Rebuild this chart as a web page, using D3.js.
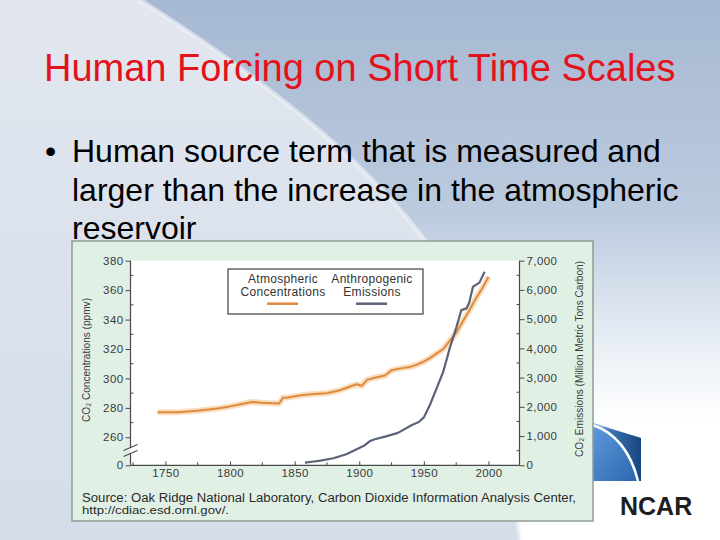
<!DOCTYPE html>
<html>
<head>
<meta charset="utf-8">
<script src="https://cdn.jsdelivr.net/npm/d3@7/dist/d3.min.js"></script>
<style>
  html, body { margin: 0; padding: 0; background: #fff; }
  svg { display: block; }
  text { font-family: "Liberation Sans", Arial, Helvetica, sans-serif; }
</style>
</head>
<body>
<svg id="slide" width="720" height="540"></svg>
<script>
// ---------- data ----------
const titleText = "Human Forcing on Short Time Scales";
const bulletLines = ["Human source term that is measured and",
                     "larger than the increase in the atmospheric",
                     "reservoir"];

const concYears = [1744,1760,1775,1790,1800,1810,1817,1825,1838,1841,1845,1855,1865,1875,1885,1893,1898,1902,1906,1912,1920,1925,1930,1940,1945,1950,1955,1960,1965,1970,1975,1980,1985,1990,1995,2000];
const concPpm   = [277,277,278,279.5,281,282.8,284,283.5,283,286.8,287,288.5,289.5,290,292,294.5,296,295,299,300.5,302,305.5,306.5,308,309.5,311.5,314,317,320,325.5,331,338.5,346,354,361,369];

const emYears = [1858,1865,1870,1880,1890,1898,1904,1908,1912,1920,1930,1940,1946,1950,1955,1960,1965,1970,1975,1979,1983,1985,1988,1993,1997];
const emMtC   = [90,130,160,240,380,550,680,820,890,980,1110,1360,1480,1640,2100,2650,3200,4000,4700,5310,5370,5550,6110,6250,6620];

const yearTicks  = [1750,1800,1850,1900,1950,2000];
const yearMinor  = [1725,1775,1825,1875,1925,1975,2025];
const leftTicks  = [0,260,280,300,320,340,360,380];
const leftMinor  = [270,290,310,330,350,370];
const rightTicks = [0,1000,2000,3000,4000,5000,6000,7000];
const rightMinor = [500,1500,2500,3500,4500,5500,6500];

const legendLabels = [["Atmospheric","Concentrations"],["Anthropogenic","Emissions"]];
const leftTitle  = "CO\u2082 Concentrations (ppmv)";
const rightTitle = "CO\u2082 Emissions (Million Metric Tons Carbon)";
const sourceLines = ["Source: Oak Ridge National Laboratory, Carbon Dioxide Information Analysis Center,",
                     "http://cdiac.esd.ornl.gov/."];

// ---------- slide background ----------
const svg = d3.select("#slide");
const defs = svg.append("defs");

const bgGrad = defs.append("linearGradient").attr("id","bgGrad").attr("x1",0).attr("y1",0).attr("x2",0).attr("y2",1);
bgGrad.append("stop").attr("offset","0%").attr("stop-color","#a6b8d2");
bgGrad.append("stop").attr("offset","40%").attr("stop-color","#bccbdf");
bgGrad.append("stop").attr("offset","62%").attr("stop-color","#e6ecf4");
bgGrad.append("stop").attr("offset","78%").attr("stop-color","#ffffff");
bgGrad.append("stop").attr("offset","100%").attr("stop-color","#ffffff");
svg.append("rect").attr("width",720).attr("height",540).attr("fill","url(#bgGrad)");

const leftGrad = defs.append("linearGradient").attr("id","leftGrad").attr("x1",0).attr("y1",0).attr("x2",0).attr("y2",1);
leftGrad.append("stop").attr("offset","0%").attr("stop-color","#e2e7ef");
leftGrad.append("stop").attr("offset","100%").attr("stop-color","#d4dde9");
svg.append("path")
  .attr("d","M0,0 L140,0 C250,70 420,190 470,320 C500,400 510,470 520,540 L0,540 Z")
  .attr("fill","url(#leftGrad)");
svg.append("path")
  .attr("d","M140,0 C250,70 420,190 470,320 C500,400 510,470 520,540")
  .attr("fill","none").attr("stroke","#eef2f7").attr("stroke-width",5).attr("opacity",0.6);

// ---------- title & bullets ----------
svg.append("text").attr("x",44).attr("y",81)
  .attr("font-size",38).attr("fill","#e3121b").text(titleText);

svg.append("text").attr("x",45).attr("y",162).attr("font-size",32).attr("fill","#000").text("\u2022");
svg.selectAll("text.bl").data(bulletLines).join("text").attr("class","bl")
  .attr("x",72).attr("y",(d,i)=>162 + i*38.5)
  .attr("font-size",32).attr("fill","#000").text(d=>d);

// ---------- NCAR logo ----------
const logoGrad = defs.append("linearGradient").attr("id","logoGrad").attr("x1",0).attr("y1",0).attr("x2",1).attr("y2",1);
logoGrad.append("stop").attr("offset","0%").attr("stop-color","#5f9bdc");
logoGrad.append("stop").attr("offset","100%").attr("stop-color","#2a64ad");
const darkGrad = defs.append("linearGradient").attr("id","darkGrad").attr("x1",0).attr("y1",0).attr("x2",1).attr("y2",0);
darkGrad.append("stop").attr("offset","0%").attr("stop-color","#cfe0f2");
darkGrad.append("stop").attr("offset","35%").attr("stop-color","#3d74b4");
darkGrad.append("stop").attr("offset","100%").attr("stop-color","#15457f");
svg.append("path").attr("d","M593,423 L641,438 L641,481 L593,481 Z").attr("fill","url(#logoGrad)");
svg.append("path").attr("d","M593,424 Q628,436 639,481 L641,481 L641,438 Z").attr("fill","url(#darkGrad)");
svg.append("path").attr("d","M593,425 Q627,437 638,481").attr("fill","none").attr("stroke","#ffffff").attr("stroke-width",2.5);
svg.append("text").attr("x",620).attr("y",515).attr("font-size",25).attr("font-weight","bold")
  .attr("fill","#1e1e1e").text("NCAR");

// ---------- chart panel ----------
svg.append("rect").attr("x",72).attr("y",241).attr("width",521).attr("height",280)
  .attr("fill","#e1f0e5").attr("stroke","#8f9d95").attr("stroke-width",1.5);

const x  = d3.scaleLinear().domain([1723,2024]).range([130.5,519.5]);
const yL = d3.scaleLinear().domain([0,260,380]).range([465.3,437.3,260.7]);
const yR = d3.scaleLinear().domain([0,7000]).range([465.3,260.7]);

svg.append("rect").attr("x",x(1723)).attr("y",yR(7000))
  .attr("width",x(2024)-x(1723)).attr("height",yR(0)-yR(7000)).attr("fill","#ffffff");

const axisColor = "#4a4a4a";
const tickFont = 11.5;

// bottom axis
const gx = svg.append("g").attr("transform",`translate(0,${yR(0)})`)
  .call(d3.axisBottom(x).tickValues(yearTicks).tickFormat(d3.format("d")).tickSizeInner(-4).tickSizeOuter(0).tickPadding(4));
gx.select(".domain").remove();
gx.selectAll("line").attr("stroke",axisColor);
gx.selectAll("text").attr("font-size",tickFont).attr("fill","#3a3a3a").attr("letter-spacing","0.4px").attr("font-family",null);
svg.append("g").selectAll("line").data(yearMinor.filter(d=>d>1723&&d<2024)).join("line")
  .attr("x1",d=>x(d)).attr("x2",d=>x(d)).attr("y1",yR(0)).attr("y2",yR(0)-3).attr("stroke",axisColor);
svg.append("line").attr("x1",x(1723)).attr("x2",x(2024)).attr("y1",yR(0)).attr("y2",yR(0))
  .attr("stroke",axisColor).attr("stroke-width",1.2);

// left axis
const gl = svg.append("g").attr("transform",`translate(${x(1723)},0)`)
  .call(d3.axisLeft(yL).tickValues(leftTicks).tickFormat(d3.format("d")).tickSizeInner(5).tickSizeOuter(0).tickPadding(2));
gl.select(".domain").remove();
gl.selectAll("line").attr("stroke",axisColor);
gl.selectAll("text").attr("font-size",tickFont).attr("fill","#3a3a3a").attr("letter-spacing","0.4px").attr("font-family",null);
svg.append("g").selectAll("line").data(leftMinor).join("line")
  .attr("x1",x(1723)).attr("x2",x(1723)+3).attr("y1",d=>yL(d)).attr("y2",d=>yL(d)).attr("stroke",axisColor);
// axis line with break
svg.append("line").attr("x1",x(1723)).attr("x2",x(1723)).attr("y1",yL(380)).attr("y2",447.5)
  .attr("stroke",axisColor).attr("stroke-width",1.2);
svg.append("line").attr("x1",x(1723)).attr("x2",x(1723)).attr("y1",453.5).attr("y2",yR(0))
  .attr("stroke",axisColor).attr("stroke-width",1.2);
svg.append("g").selectAll("line").data([0,6]).join("line")
  .attr("x1",x(1723)-7).attr("x2",x(1723)+7).attr("y1",d=>450.5+d).attr("y2",d=>444.5+d)
  .attr("stroke",axisColor).attr("stroke-width",1.1);

// right axis
const gr = svg.append("g").attr("transform",`translate(${x(2024)},0)`)
  .call(d3.axisRight(yR).tickValues(rightTicks).tickFormat(d3.format(",")).tickSizeInner(5).tickSizeOuter(0).tickPadding(2));
gr.select(".domain").remove();
gr.selectAll("line").attr("stroke",axisColor);
gr.selectAll("text").attr("font-size",tickFont).attr("fill","#3a3a3a").attr("letter-spacing","0.4px").attr("font-family",null);
svg.append("g").selectAll("line").data(rightMinor).join("line")
  .attr("x1",x(2024)).attr("x2",x(2024)-3).attr("y1",d=>yR(d)).attr("y2",d=>yR(d)).attr("stroke",axisColor);
svg.append("line").attr("x1",x(2024)).attr("x2",x(2024)).attr("y1",yR(7000)).attr("y2",yR(0))
  .attr("stroke",axisColor).attr("stroke-width",1.2);

// axis titles
svg.append("text").attr("transform","translate(90,360) rotate(-90)")
  .attr("text-anchor","middle").attr("font-size",11.5).attr("fill","#3a3a3a")
  .attr("textLength",124).attr("lengthAdjust","spacingAndGlyphs").text(leftTitle);
svg.append("text").attr("transform","translate(582.5,359) rotate(-90)")
  .attr("text-anchor","middle").attr("font-size",11.5).attr("fill","#3a3a3a")
  .attr("textLength",196).attr("lengthAdjust","spacingAndGlyphs").text(rightTitle);

// ---------- series ----------
const concData = concYears.map((d,i)=>[d,concPpm[i]]);
const emData = emYears.map((d,i)=>[d,emMtC[i]]);
const concLine = d3.line().x(d=>x(d[0])).y(d=>yL(d[1]));
const emLine = d3.line().x(d=>x(d[0])).y(d=>yR(d[1]));

svg.append("path").datum(concData).attr("d",concLine).attr("fill","none")
  .attr("stroke","#f4c795").attr("stroke-width",6).attr("stroke-opacity",0.6).attr("stroke-linejoin","round");
svg.append("path").datum(concData).attr("d",concLine).attr("fill","none")
  .attr("stroke","#e08a3e").attr("stroke-width",2).attr("stroke-linejoin","round");
svg.append("path").datum(emData).attr("d",emLine).attr("fill","none")
  .attr("stroke","#5a6378").attr("stroke-width",2.2).attr("stroke-linejoin","round");

// ---------- legend ----------
const lg = svg.append("g");
lg.append("rect").attr("x",228).attr("y",269).attr("width",195).attr("height",45)
  .attr("fill","#ffffff").attr("stroke","#3e3e3e").attr("stroke-width",1.2);
const legendCx = [283,372];
const legendColors = ["#e08a3e","#5a6378"];
legendLabels.forEach((lab,i)=>{
  lab.forEach((t,j)=>{
    lg.append("text").attr("x",legendCx[i]).attr("y",282.5+j*13).attr("text-anchor","middle")
      .attr("font-size",12).attr("fill","#333").attr("letter-spacing","0.3px").text(t);
  });
  lg.append("line").attr("x1",legendCx[i]-16).attr("x2",legendCx[i]+15).attr("y1",303.7).attr("y2",303.7)
    .attr("stroke",legendColors[i]).attr("stroke-width",2.5);
});

// ---------- source ----------
svg.append("text").attr("x",82).attr("y",502).attr("font-size",12).attr("fill","#2a2a2a")
  .attr("textLength",494).attr("lengthAdjust","spacingAndGlyphs").text(sourceLines[0]);
svg.append("text").attr("x",82).attr("y",513.5).attr("font-size",11).attr("fill","#2a2a2a")
  .attr("textLength",147).attr("lengthAdjust","spacingAndGlyphs").text(sourceLines[1]);
</script>
</body>
</html>
